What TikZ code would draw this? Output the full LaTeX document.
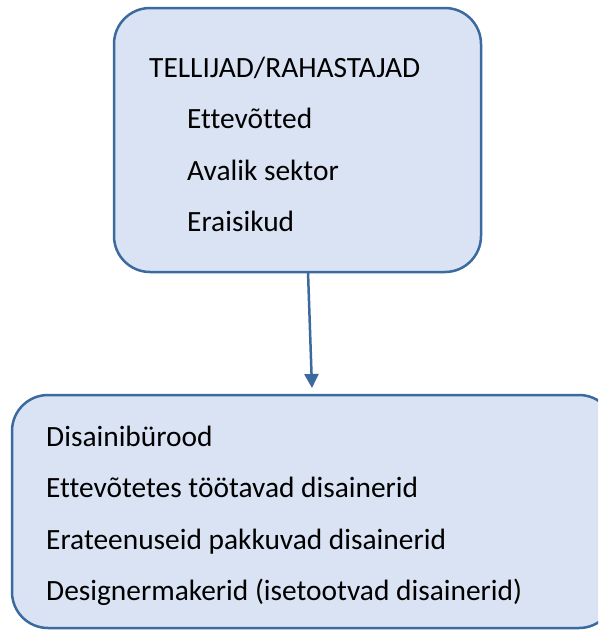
\documentclass[tikz,border=0pt]{standalone}
\usepackage{fontspec}
\setmainfont[Ligatures=CommonOff]{Carlito}
\usetikzlibrary{arrows.meta}
\definecolor{boxfill}{HTML}{DAE3F3}
\definecolor{boxline}{HTML}{3B6A9E}
\tikzset{
  panel/.style={draw=boxline, fill=boxfill, line width=2.5pt, rounded corners=36pt, inner sep=0pt},
  txt/.style={anchor=base west, inner sep=0pt, font=\fontsize{29.4}{35}\selectfont},
  link/.style={draw=boxline, line width=2.5pt, -{Triangle[length=14pt,width=14pt]}}
}
\begin{document}
\begin{tikzpicture}[x=1pt,y=-1pt]
\useasboundingbox (0,0) rectangle (598,630);
\clip (0,0) rectangle (598,630);
\node[panel, minimum width=367pt, minimum height=264pt] (top) at (297.5,140) {};
\node[panel, minimum width=603pt, minimum height=233pt] (bot) at (313.5,511.5) {};
\node[txt] (t0) at (149,77) {TELLIJAD/RAHASTAJAD};
\node[txt] (t1) at (187,128) {Ettevõtted};
\node[txt] (t2) at (187,180) {Avalik sektor};
\node[txt] (t3) at (187,231) {Eraisikud};
\node[txt] (b1) at (46,446) {Disainibürood};
\node[txt] (b2) at (46,497) {Ettevõtetes töötavad disainerid};
\node[txt] (b3) at (46,549) {Erateenuseid pakkuvad disainerid};
\node[txt] (b4) at (46,600) {Designermakerid (isetootvad disainerid)};
\coordinate (s) at (308,272);
\coordinate (e) at (312,388);
\draw[link] (s) -- (e);
\end{tikzpicture}
\end{document}
